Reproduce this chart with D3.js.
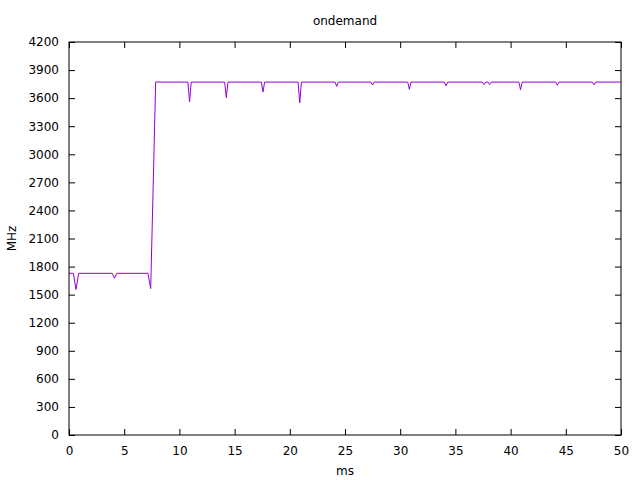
<!DOCTYPE html>
<html>
<head>
<meta charset="utf-8">
<script src="https://cdn.jsdelivr.net/npm/d3@7"></script>
<style>
  body { margin: 0; background: #fff; }
  svg { display: block; }
  text { font-family: "DejaVu Sans", sans-serif; font-size: 12px; fill: #000; }
</style>
</head>
<body>
<svg id="chart" width="640" height="480"></svg>
<script>
// Vertices of the frequency trace (time in ms, frequency in MHz)
const timeMs = [
  0, 0.4, 0.63, 0.88, 3.92, 4.12, 4.33, 7.15, 7.4, 7.85,
  10.77, 10.92, 11.07,
  14.1, 14.25, 14.4,
  17.42, 17.57, 17.72,
  20.75, 20.9, 21.05,
  24.1, 24.25, 24.4,
  27.35, 27.5, 27.65,
  30.68, 30.83, 30.98,
  34.0, 34.15, 34.3,
  37.45, 37.6, 37.75, 37.95, 38.1, 38.25,
  40.75, 40.9, 41.05,
  44.08, 44.23, 44.38,
  47.4, 47.55, 47.7,
  50
];
const freqMHz = [
  1728, 1728, 1555, 1728, 1728, 1675, 1728, 1728, 1565, 3772,
  3772, 3560, 3772,
  3772, 3605, 3772,
  3772, 3665, 3772,
  3772, 3550, 3772,
  3772, 3725, 3772,
  3772, 3740, 3772,
  3772, 3695, 3772,
  3772, 3732, 3772,
  3772, 3745, 3772, 3772, 3745, 3772,
  3772, 3690, 3772,
  3772, 3738, 3772,
  3772, 3742, 3772,
  3772
];
const xTicks = [0, 5, 10, 15, 20, 25, 30, 35, 40, 45, 50];
const yTicks = [0, 300, 600, 900, 1200, 1500, 1800, 2100, 2400, 2700, 3000, 3300, 3600, 3900, 4200];
const titleText = "ondemand";
const xLabel = "ms";
const yLabel = "MHz";

const svg = d3.select("#chart");
const L = 69, R = 621, T = 42, B = 435;
const x = d3.scaleLinear().domain([0, 50]).range([L, R]);
const y = d3.scaleLinear().domain([0, 4200]).range([B, T]);
const tick = 6;

const data = timeMs.map((t, i) => [t, freqMHz[i]]);

// Axes (bottom/left with labels; top/right mirror ticks)
const gB = svg.append("g").attr("transform", `translate(0,${B})`)
  .call(d3.axisBottom(x).tickValues(xTicks).tickSize(-tick).tickPadding(tick + 5).tickFormat(d3.format("d")));
const gT = svg.append("g").attr("transform", `translate(0,${T})`)
  .call(d3.axisTop(x).tickValues(xTicks).tickSize(-tick).tickFormat(""));
const gL = svg.append("g").attr("transform", `translate(${L},0)`)
  .call(d3.axisLeft(y).tickValues(yTicks).tickSize(-tick).tickPadding(tick + 4).tickFormat(d3.format("d")));
const gR = svg.append("g").attr("transform", `translate(${R},0)`)
  .call(d3.axisRight(y).tickValues(yTicks).tickSize(-tick).tickFormat(""));
[gB, gT, gL, gR].forEach(g => {
  g.select(".domain").remove();
  g.selectAll("line").attr("stroke", "#000").attr("stroke-width", 1);
  g.selectAll("text").attr("font-family", "DejaVu Sans, sans-serif").attr("font-size", 12).attr("fill", "#000");
});

// Trace
svg.append("path")
  .datum(data)
  .attr("fill", "none")
  .attr("stroke", "#9400d3")
  .attr("stroke-width", 1)
  .attr("d", d3.line().x(d => x(d[0])).y(d => y(d[1])));

// Border
svg.append("rect")
  .attr("x", L).attr("y", T).attr("width", R - L).attr("height", B - T)
  .attr("fill", "none").attr("stroke", "#000").attr("stroke-width", 1);

// Titles
svg.append("text").attr("x", (L + R) / 2).attr("y", 25).attr("text-anchor", "middle").text(titleText);
svg.append("text").attr("x", (L + R) / 2).attr("y", 475).attr("text-anchor", "middle").text(xLabel);
svg.append("text").attr("transform", `translate(16,${(T + B) / 2}) rotate(-90)`).attr("text-anchor", "middle").text(yLabel);
</script>
</body>
</html>
